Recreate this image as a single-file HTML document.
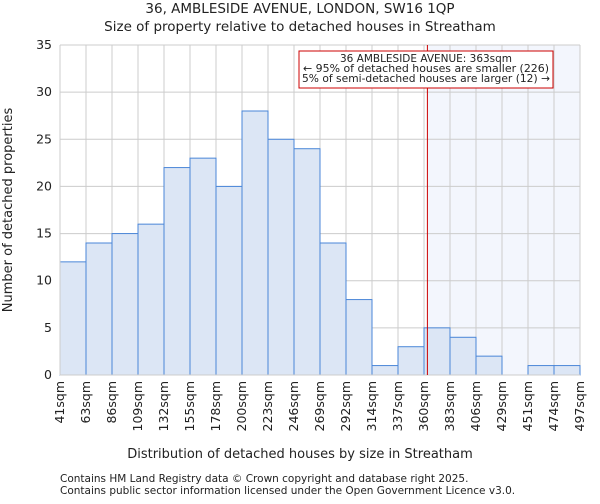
<!DOCTYPE html>
<html><head><meta charset="utf-8"><style>
body{margin:0;background:#fff;font-family:"DejaVu Sans","Liberation Sans",sans-serif;}
svg text{font-family:"DejaVu Sans","Liberation Sans",sans-serif;fill:#222;}
</style></head><body>
<svg id="chart" width="600" height="500">
<text x="300" y="13" text-anchor="middle" font-size="13.5">36, AMBLESIDE AVENUE, LONDON, SW16 1QP</text>
<text x="300" y="31" text-anchor="middle" font-size="13.5">Size of property relative to detached houses in Streatham</text>
<g id="grid"></g><g id="bars"></g><g id="axes"></g>
<text x="300" y="458" text-anchor="middle" font-size="13">Distribution of detached houses by size in Streatham</text>
<text transform="translate(12,210) rotate(-90)" text-anchor="middle" font-size="13">Number of detached properties</text>
<text x="60" y="482" font-size="10.5" fill="#444">Contains HM Land Registry data © Crown copyright and database right 2025.</text>
<text x="60" y="494" font-size="10.5" fill="#444">Contains public sector information licensed under the Open Government Licence v3.0.</text>
</svg>
<script>
const categories=["41sqm","63sqm","86sqm","109sqm","132sqm","155sqm","178sqm","200sqm","223sqm","246sqm","269sqm","292sqm","314sqm","337sqm","360sqm","383sqm","406sqm","429sqm","451sqm","474sqm","497sqm"];
const values=[12,14,15,16,22,23,20,28,25,24,14,8,1,3,5,4,2,0,1,1];
const yTicks=[0,5,10,15,20,25,30,35];
const binStarts=[41,63,86,109,132,155,178,200,223,246,269,292,314,337,360,383,406,429,451,474,497];
const markerValue=363;
const NS="http://www.w3.org/2000/svg";
const L=60,R=580,T=45,B=375,yMax=35;
const bw=(R-L)/values.length;
const y=v=>B-v/yMax*(B-T);
const x=i=>L+i*bw;
function xv(v){for(let i=0;i<binStarts.length-1;i++){if(v>=binStarts[i]&&v<=binStarts[i+1])return x(i)+(v-binStarts[i])/(binStarts[i+1]-binStarts[i])*bw;}return R;}
function mk(p,t,a){const e=document.createElementNS(NS,t);for(const k in a)e.setAttribute(k,a[k]);p.appendChild(e);return e;}
const g=document.getElementById('grid'),b=document.getElementById('bars'),ax=document.getElementById('axes');
const mx=xv(markerValue);
const sh=mk(g,'rect',{x:mx,y:T,width:R-mx,height:B-T,fill:'#f3f6fd'});


for(let i=0;i<=values.length;i++){mk(g,'line',{x1:x(i),x2:x(i),y1:T,y2:B,stroke:'#ccc','stroke-width':1});}
yTicks.forEach(t=>{mk(g,'line',{x1:L,x2:R,y1:y(t),y2:y(t),stroke:'#ccc','stroke-width':1});
const tl=mk(ax,'text',{x:L-8,y:y(t)+4,'text-anchor':'end','font-size':12.5});tl.textContent=t;

});
values.forEach((v,i)=>{if(v<=0)return;const r=mk(b,'rect',{x:x(i),y:y(v),width:bw,height:B-y(v),fill:'#dce6f5',stroke:'#4a86d8','stroke-width':1});

});
mk(ax,'line',{x1:L,x2:L,y1:T,y2:B,stroke:'#ccc'});
mk(ax,'line',{x1:L,x2:R,y1:B,y2:B,stroke:'#ccc'});
categories.forEach((c,i)=>{const t=mk(ax,'text',{transform:`translate(${x(i)+4},${B+6}) rotate(-90)`,'text-anchor':'end','font-size':12.5});t.textContent=c;

});
const ml=mk(ax,'line',{x1:mx,x2:mx,y1:T,y2:B,stroke:'#c00','stroke-width':1});


const box=mk(ax,'rect',{x:299,y:51,width:254,height:37,fill:'#fff',stroke:'#c00','stroke-width':1});


["36 AMBLESIDE AVENUE: 363sqm","← 95% of detached houses are smaller (226)","5% of semi-detached houses are larger (12) →"].forEach((s,i)=>{const t=mk(ax,'text',{x:426,y:62+i*10,'text-anchor':'middle','font-size':10.8,textLength:i==0?172:(i==1?246:248),lengthAdjust:'spacingAndGlyphs'});t.textContent=s;

});
</script>
</body></html>
